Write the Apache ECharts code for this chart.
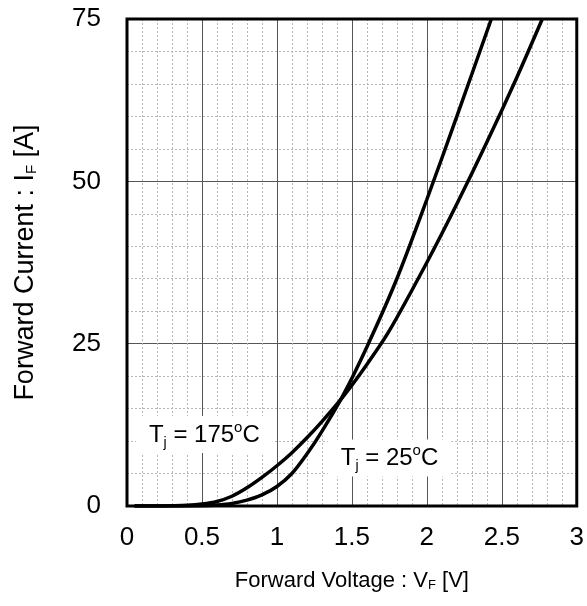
<!DOCTYPE html>
<html>
<head>
<meta charset="utf-8">
<script src="https://cdn.jsdelivr.net/npm/echarts@6/dist/echarts.min.js"></script>
<style>
html,body{margin:0;padding:0;background:#fff;}
#chart{width:587px;height:606px;}
</style>
</head>
<body>
<div id="chart"></div>
<script>
// Forward voltage VF [V] and forward current IF [A]
var vf25 = [0.05, 0.3, 0.5, 0.6, 0.7, 0.8, 0.9, 1.0, 1.1, 1.2, 1.3, 1.44, 1.6, 1.8, 2.0, 2.2, 2.43];
var if25 = [0, 0, 0.05, 0.15, 0.4, 0.9, 1.7, 3.0, 5.0, 8.0, 11.5, 17.0, 24.5, 35.0, 47.2, 60, 75];
var vf175 = [0.05, 0.2, 0.3, 0.4, 0.5, 0.6, 0.7, 0.8, 0.9, 1.0, 1.1, 1.2, 1.3, 1.44, 1.6, 1.75, 2.0, 2.2, 2.4, 2.6, 2.77];
var if175 = [0, 0, 0.03, 0.1, 0.3, 0.7, 1.5, 2.8, 4.4, 6.2, 8.2, 10.5, 13.0, 16.8, 21.8, 27, 37.5, 46.5, 56, 66, 75];
var xTicks = [0, 0.5, 1, 1.5, 2, 2.5, 3];
var yTicks = [0, 25, 50, 75];
var label25 = ['T', 'j', ' = 25', 'o', 'C'];
var label175 = ['T', 'j', ' = 175', 'o', 'C'];

function pairs(xs, ys) { return xs.map(function (x, i) { return [x, ys[i]]; }); }
function richText(p) {
  return '{a|' + p[0] + '}{b|' + p[1] + '}{a|' + p[2] + '}{c|' + p[3] + '}{a|' + p[4] + '}';
}
var FONT = '"Liberation Sans", Arial, sans-serif';
var rich = {
  a: { fontSize: 24, fontFamily: FONT, color: '#000', lineHeight: 30, verticalAlign: 'middle' },
  b: { fontSize: 14, fontFamily: FONT, color: '#000', lineHeight: 14, verticalAlign: 'bottom' },
  c: { fontSize: 15, fontFamily: FONT, color: '#000', lineHeight: 20, verticalAlign: 'top' }
};
function labelPoint(coord, parts) {
  return {
    coord: coord,
    symbol: 'rect', symbolSize: 1,
    itemStyle: { color: 'rgba(0,0,0,0)' },
    label: {
      show: true, position: 'inside',
      formatter: richText(parts),
      backgroundColor: '#fff',
      padding: [4, 13, 3, 13],
      rich: rich
    }
  };
}

var chart = echarts.init(document.getElementById('chart'), null, { renderer: 'canvas' });
chart.setOption({
  backgroundColor: '#fff',
  animation: false,
  grid: { left: 127, top: 19, right: 9, bottom: 100, show: true, borderColor: '#000', borderWidth: 3, z: 5 },
  xAxis: {
    type: 'value', min: xTicks[0], max: xTicks[xTicks.length - 1], interval: 0.5,
    name: 'Forward Voltage : V{s|F} [V]', nameLocation: 'middle', nameGap: 64,
    nameTextStyle: { fontSize: 22, fontFamily: FONT, color: '#000', rich: { s: { fontSize: 13, fontFamily: FONT, color: '#000', verticalAlign: 'bottom', lineHeight: 10 } } },
    axisLine: { show: false }, axisTick: { show: false },
    axisLabel: { fontSize: 26, fontFamily: FONT, color: '#000', margin: 19,
      formatter: function (v) { return xTicks.indexOf(v) >= 0 ? String(v) : ''; } },
    splitLine: { show: true, lineStyle: { color: '#555', width: 1 } },
    minorTick: { show: false, splitNumber: 5 },
    minorSplitLine: { show: true, lineStyle: { color: '#b5b5b5', width: 1, type: [2, 2] } }
  },
  yAxis: {
    type: 'value', min: yTicks[0], max: yTicks[yTicks.length - 1], interval: 25,
    name: 'Forward Current : I{s|F} [A]', nameLocation: 'middle', nameGap: 88, nameRotate: 90,
    nameTextStyle: { fontSize: 27, fontFamily: FONT, color: '#000', rich: { s: { fontSize: 15, fontFamily: FONT, color: '#000', verticalAlign: 'bottom', lineHeight: 10 } } },
    axisLine: { show: false }, axisTick: { show: false },
    axisLabel: { fontSize: 26, fontFamily: FONT, color: '#000', margin: 26 },
    splitLine: { show: true, lineStyle: { color: '#555', width: 1 } },
    minorTick: { show: false, splitNumber: 5 },
    minorSplitLine: { show: true, lineStyle: { color: '#b5b5b5', width: 1, type: [2, 2] } }
  },
  series: [
    {
      name: 'Tj = 25C', type: 'line', data: pairs(vf25, if25),
      smooth: 0.3, showSymbol: false, symbol: 'none',
      lineStyle: { color: '#000', width: 3.5 }, z: 3,
      markPoint: { silent: true, data: [labelPoint([1.751, 7.4], label25)] }
    },
    {
      name: 'Tj = 175C', type: 'line', data: pairs(vf175, if175),
      smooth: 0.3, showSymbol: false, symbol: 'none',
      lineStyle: { color: '#000', width: 3.5 }, z: 3,
      markPoint: { silent: true, data: [labelPoint([0.516, 11.0], label175)] }
    }
  ]
});
</script>
</body>
</html>
